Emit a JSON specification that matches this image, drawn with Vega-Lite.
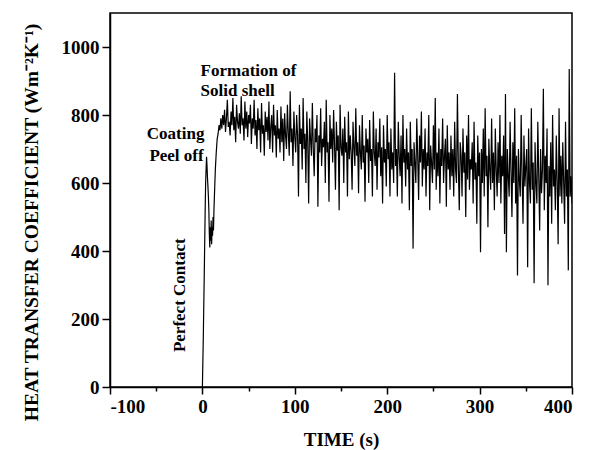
{
  "$schema": "https://vega.github.io/schema/vega-lite/v6.json",
  "width": 462,
  "height": 374,
  "autosize": {"type": "none"},
  "padding": {"left": 110, "top": 13, "right": 18, "bottom": 63},
  "background": "white",
  "config": {
    "view": {"stroke": "#000", "strokeWidth": 1.5},
    "font": "Liberation Serif",
    "axis": {
      "grid": false,
      "domainColor": "#000",
      "domainWidth": 1.5,
      "tickColor": "#000",
      "tickWidth": 1.5,
      "labelFont": "Liberation Serif",
      "labelFontWeight": "bold",
      "labelFontSize": 19,
      "labelColor": "#000",
      "titleFont": "Liberation Serif",
      "titleFontWeight": "bold",
      "titleFontSize": 19,
      "titleColor": "#000"
    }
  },
  "datasets": {
    "curve": [
      {"t":0,"h":0},{"t":1,"h":150},{"t":2,"h":330},{"t":3,"h":520},{"t":3.5,"h":600},{"t":4,"h":640},{"t":4.5,"h":677},{"t":5,"h":650},{"t":5.5,"h":615},{"t":6,"h":590},{"t":6.5,"h":560},{"t":7,"h":520},{"t":7.5,"h":450},{"t":8,"h":410},{"t":8.5,"h":470},{"t":9,"h":430},{"t":9.5,"h":490},{"t":10,"h":420},{"t":10.5,"h":470},{"t":11,"h":445},{"t":11.5,"h":500},{"t":12,"h":460},{"t":12.5,"h":520},{"t":13,"h":560},{"t":14,"h":640},{"t":15,"h":690},{"t":16,"h":730},{"t":17,"h":745},{"t":18,"h":770},{"t":19,"h":755},{"t":20,"h":790},
      {"t":21,"h":760},{"t":22,"h":800},{"t":23,"h":770},{"t":24,"h":815},{"t":25,"h":750},{"t":26,"h":790},{"t":27,"h":845},{"t":28,"h":765},{"t":29,"h":780},{"t":30,"h":740},
      {"t":31,"h":810},{"t":32,"h":770},{"t":33,"h":850},{"t":34,"h":755},{"t":35,"h":795},{"t":36,"h":720},{"t":37,"h":830},{"t":38,"h":780},{"t":39,"h":760},{"t":40,"h":805},
      {"t":41,"h":745},{"t":42,"h":855},{"t":43,"h":770},{"t":44,"h":790},{"t":45,"h":725},{"t":46,"h":840},{"t":47,"h":760},{"t":48,"h":810},{"t":49,"h":735},{"t":50,"h":800},
      {"t":51,"h":775},{"t":52,"h":830},{"t":53,"h":715},{"t":54,"h":790},{"t":55,"h":760},{"t":56,"h":845},{"t":57,"h":740},{"t":58,"h":785},{"t":59,"h":700},{"t":60,"h":820},
      {"t":61,"h":755},{"t":62,"h":790},{"t":63,"h":690},{"t":64,"h":835},{"t":65,"h":745},{"t":66,"h":770},{"t":67,"h":680},{"t":68,"h":810},{"t":69,"h":750},{"t":70,"h":795},
      {"t":71,"h":725},{"t":72,"h":840},{"t":73,"h":700},{"t":74,"h":765},{"t":75,"h":800},{"t":76,"h":690},{"t":77,"h":830},{"t":78,"h":740},{"t":79,"h":770},{"t":80,"h":675},
      {"t":81,"h":815},{"t":82,"h":730},{"t":83,"h":760},{"t":84,"h":690},{"t":85,"h":825},{"t":86,"h":720},{"t":87,"h":790},{"t":88,"h":665},{"t":89,"h":805},{"t":90,"h":740},
      {"t":91,"h":700},{"t":92,"h":830},{"t":93,"h":745},{"t":94,"h":680},{"t":95,"h":870},{"t":96,"h":720},{"t":97,"h":760},{"t":98,"h":650},{"t":99,"h":810},{"t":100,"h":735},
      {"t":101,"h":690},{"t":102,"h":800},{"t":103,"h":740},{"t":104,"h":560},{"t":105,"h":830},{"t":106,"h":715},{"t":107,"h":760},{"t":108,"h":640},{"t":109,"h":850},{"t":110,"h":700},
      {"t":111,"h":745},{"t":112,"h":600},{"t":113,"h":810},{"t":114,"h":720},{"t":115,"h":540},{"t":116,"h":790},{"t":117,"h":730},{"t":118,"h":680},{"t":119,"h":835},{"t":120,"h":700},
      {"t":121,"h":620},{"t":122,"h":760},{"t":123,"h":720},{"t":124,"h":800},{"t":125,"h":530},{"t":126,"h":740},{"t":127,"h":690},{"t":128,"h":820},{"t":129,"h":650},{"t":130,"h":730},
      {"t":131,"h":705},{"t":132,"h":780},{"t":133,"h":600},{"t":134,"h":845},{"t":135,"h":690},{"t":136,"h":720},{"t":137,"h":545},{"t":138,"h":800},{"t":139,"h":700},{"t":140,"h":760},
      {"t":141,"h":660},{"t":142,"h":815},{"t":143,"h":710},{"t":144,"h":580},{"t":145,"h":780},{"t":146,"h":695},{"t":147,"h":740},{"t":148,"h":520},{"t":149,"h":830},{"t":150,"h":705},
      {"t":151,"h":680},{"t":152,"h":760},{"t":153,"h":600},{"t":154,"h":795},{"t":155,"h":690},{"t":156,"h":720},{"t":157,"h":560},{"t":158,"h":810},{"t":159,"h":670},{"t":160,"h":740},
      {"t":161,"h":690},{"t":162,"h":580},{"t":163,"h":780},{"t":164,"h":705},{"t":165,"h":650},{"t":166,"h":820},{"t":167,"h":680},{"t":168,"h":720},{"t":169,"h":570},{"t":170,"h":770},
      {"t":171,"h":690},{"t":172,"h":640},{"t":173,"h":800},{"t":174,"h":660},{"t":175,"h":710},{"t":176,"h":545},{"t":177,"h":760},{"t":178,"h":690},{"t":179,"h":730},{"t":180,"h":600},
      {"t":181,"h":785},{"t":182,"h":665},{"t":183,"h":700},{"t":184,"h":560},{"t":185,"h":810},{"t":186,"h":690},{"t":187,"h":650},{"t":188,"h":760},{"t":189,"h":580},{"t":190,"h":720},
      {"t":191,"h":675},{"t":192,"h":790},{"t":193,"h":620},{"t":194,"h":705},{"t":195,"h":540},{"t":196,"h":770},{"t":197,"h":660},{"t":198,"h":700},{"t":199,"h":590},{"t":200,"h":800},
      {"t":201,"h":670},{"t":202,"h":720},{"t":203,"h":560},{"t":204,"h":760},{"t":205,"h":640},{"t":206,"h":690},{"t":207,"h":600},{"t":208,"h":924},{"t":209,"h":650},{"t":210,"h":700},
      {"t":211,"h":560},{"t":212,"h":780},{"t":213,"h":680},{"t":214,"h":620},{"t":215,"h":740},{"t":216,"h":540},{"t":217,"h":800},{"t":218,"h":660},{"t":219,"h":700},{"t":220,"h":590},
      {"t":221,"h":760},{"t":222,"h":640},{"t":223,"h":690},{"t":224,"h":520},{"t":225,"h":780},{"t":226,"h":650},{"t":227,"h":700},{"t":228,"h":407},{"t":229,"h":720},{"t":230,"h":660},
      {"t":231,"h":600},{"t":232,"h":790},{"t":233,"h":680},{"t":234,"h":550},{"t":235,"h":740},{"t":236,"h":660},{"t":237,"h":810},{"t":238,"h":590},{"t":239,"h":700},{"t":240,"h":640},
      {"t":241,"h":760},{"t":242,"h":560},{"t":243,"h":690},{"t":244,"h":650},{"t":245,"h":800},{"t":246,"h":520},{"t":247,"h":710},{"t":248,"h":660},{"t":249,"h":600},{"t":250,"h":770},
      {"t":251,"h":640},{"t":252,"h":850},{"t":253,"h":580},{"t":254,"h":690},{"t":255,"h":620},{"t":256,"h":760},{"t":257,"h":540},{"t":258,"h":700},{"t":259,"h":650},{"t":260,"h":790},
      {"t":261,"h":600},{"t":262,"h":680},{"t":263,"h":730},{"t":264,"h":530},{"t":265,"h":770},{"t":266,"h":640},{"t":267,"h":690},{"t":268,"h":580},{"t":269,"h":740},{"t":270,"h":620},
      {"t":271,"h":700},{"t":272,"h":560},{"t":273,"h":780},{"t":274,"h":640},{"t":275,"h":600},{"t":276,"h":862},{"t":277,"h":650},{"t":278,"h":520},{"t":279,"h":720},{"t":280,"h":680},
      {"t":281,"h":560},{"t":282,"h":760},{"t":283,"h":630},{"t":284,"h":690},{"t":285,"h":500},{"t":286,"h":740},{"t":287,"h":610},{"t":288,"h":800},{"t":289,"h":580},{"t":290,"h":670},
      {"t":291,"h":640},{"t":292,"h":720},{"t":293,"h":540},{"t":294,"h":780},{"t":295,"h":610},{"t":296,"h":660},{"t":297,"h":480},{"t":298,"h":740},{"t":299,"h":620},{"t":300,"h":690},
      {"t":301,"h":396},{"t":302,"h":700},{"t":303,"h":600},{"t":304,"h":760},{"t":305,"h":560},{"t":306,"h":820},{"t":307,"h":620},{"t":308,"h":680},{"t":309,"h":470},{"t":310,"h":730},
      {"t":311,"h":640},{"t":312,"h":580},{"t":313,"h":790},{"t":314,"h":600},{"t":315,"h":690},{"t":316,"h":520},{"t":317,"h":760},{"t":318,"h":640},{"t":319,"h":560},{"t":320,"h":720},
      {"t":321,"h":600},{"t":322,"h":800},{"t":323,"h":540},{"t":324,"h":680},{"t":325,"h":620},{"t":326,"h":740},{"t":327,"h":450},{"t":328,"h":862},{"t":329,"h":396},{"t":330,"h":700},
      {"t":331,"h":620},{"t":332,"h":560},{"t":333,"h":780},{"t":334,"h":640},{"t":335,"h":500},{"t":336,"h":720},{"t":337,"h":600},{"t":338,"h":820},{"t":339,"h":540},{"t":340,"h":680},
      {"t":341,"h":328},{"t":342,"h":700},{"t":343,"h":610},{"t":344,"h":560},{"t":345,"h":800},{"t":346,"h":620},{"t":347,"h":480},{"t":348,"h":740},{"t":349,"h":590},{"t":350,"h":650},
      {"t":351,"h":700},{"t":352,"h":352},{"t":353,"h":760},{"t":354,"h":600},{"t":355,"h":540},{"t":356,"h":820},{"t":357,"h":580},{"t":358,"h":660},{"t":359,"h":305},{"t":360,"h":720},
      {"t":361,"h":600},{"t":362,"h":540},{"t":363,"h":780},{"t":364,"h":620},{"t":365,"h":460},{"t":366,"h":700},{"t":367,"h":570},{"t":368,"h":640},{"t":369,"h":877},{"t":370,"h":520},
      {"t":371,"h":680},{"t":372,"h":600},{"t":373,"h":760},{"t":374,"h":299},{"t":375,"h":650},{"t":376,"h":560},{"t":377,"h":720},{"t":378,"h":480},{"t":379,"h":800},{"t":380,"h":590},
      {"t":381,"h":640},{"t":382,"h":520},{"t":383,"h":740},{"t":384,"h":600},{"t":385,"h":420},{"t":386,"h":820},{"t":387,"h":560},{"t":388,"h":680},{"t":389,"h":540},{"t":390,"h":720},
      {"t":391,"h":600},{"t":392,"h":480},{"t":393,"h":780},{"t":394,"h":560},{"t":395,"h":640},{"t":396,"h":343},{"t":397,"h":935},{"t":398,"h":560},{"t":399,"h":620},{"t":400,"h":540}
    ],
    "notes": [
      {"t": -29, "h": 745, "label": "Coating", "kind": "center"},
      {"t": -28, "h": 680, "label": "Peel off", "kind": "center"},
      {"t": -2, "h": 930, "label": "Formation of", "kind": "left"},
      {"t": -2, "h": 872, "label": "Solid shell", "kind": "left"},
      {"t": -24, "h": 270, "label": "Perfect Contact", "kind": "vertical"}
    ]
  },
  "layer": [
    {
      "data": {"name": "curve"},
      "mark": {"type": "line", "color": "#000", "strokeWidth": 1.2, "clip": true},
      "encoding": {
        "x": {
          "field": "t", "type": "quantitative",
          "scale": {"domain": [-100, 400], "nice": false, "zero": false},
          "axis": {
            "title": "TIME (s)",
            "values": [-100, -50, 0, 50, 100, 150, 200, 250, 300, 350, 400],
            "labelExpr": "datum.value % 100 === 0 ? '' + datum.value : ''",
            "tickSize": {"condition": {"test": "datum.value % 100 === 0", "value": 7}, "value": 4},
            "labelPadding": 3,
            "titlePadding": 14
          }
        },
        "y": {
          "field": "h", "type": "quantitative",
          "scale": {"domain": [0, 1100], "nice": false},
          "axis": {
            "title": "HEAT TRANSFER COEFFICIENT (Wm⁻²K⁻¹)",
            "titleFontSize": 19.5,
            "titleY": 209,
            "values": [0, 100, 200, 300, 400, 500, 600, 700, 800, 900, 1000],
            "labelExpr": "datum.value % 200 === 0 ? '' + datum.value : ''",
            "tickSize": {"condition": {"test": "datum.value % 200 === 0", "value": 8}, "value": 4},
            "labelPadding": 3,
            "titlePadding": 20
          }
        }
      }
    },
    {
      "data": {"name": "notes"},
      "transform": [{"filter": "datum.kind === 'center'"}],
      "mark": {"type": "text", "font": "Liberation Serif", "fontWeight": "bold", "fontSize": 17, "align": "center", "baseline": "middle", "color": "#000"},
      "encoding": {
        "x": {"field": "t", "type": "quantitative"},
        "y": {"field": "h", "type": "quantitative"},
        "text": {"field": "label"}
      }
    },
    {
      "data": {"name": "notes"},
      "transform": [{"filter": "datum.kind === 'left'"}],
      "mark": {"type": "text", "font": "Liberation Serif", "fontWeight": "bold", "fontSize": 17, "align": "left", "baseline": "middle", "color": "#000"},
      "encoding": {
        "x": {"field": "t", "type": "quantitative"},
        "y": {"field": "h", "type": "quantitative"},
        "text": {"field": "label"}
      }
    },
    {
      "data": {"name": "notes"},
      "transform": [{"filter": "datum.kind === 'vertical'"}],
      "mark": {"type": "text", "font": "Liberation Serif", "fontWeight": "bold", "fontSize": 17, "align": "center", "baseline": "middle", "angle": 270, "color": "#000"},
      "encoding": {
        "x": {"field": "t", "type": "quantitative"},
        "y": {"field": "h", "type": "quantitative"},
        "text": {"field": "label"}
      }
    }
  ]
}
